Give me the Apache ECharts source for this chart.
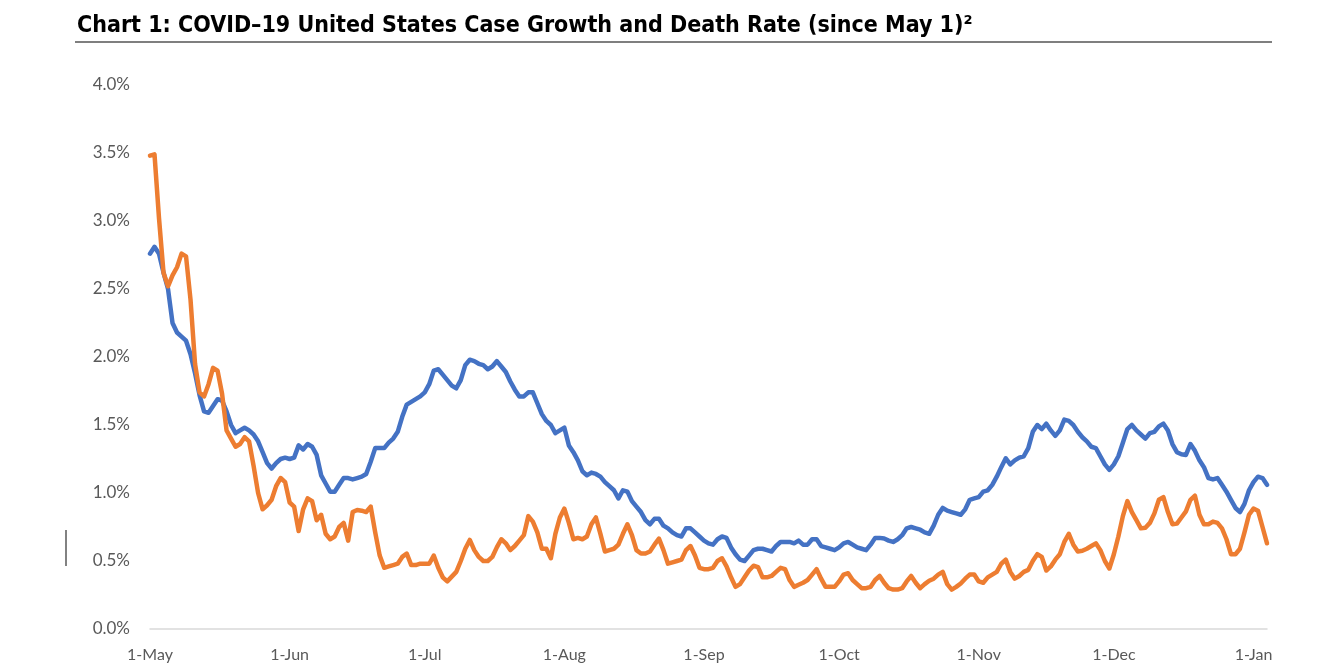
<!DOCTYPE html>
<html>
<head>
<meta charset="utf-8">
<script src="https://cdn.jsdelivr.net/npm/echarts@6/dist/echarts.min.js"></script>
<style>html,body{margin:0;padding:0;background:#fff;}#c{width:1342px;height:666px;}</style>
</head>
<body>
<div id="c"></div>
<script>
// Daily categories from 1 May through 4 Jan
const startDate = [2020, 4, 1]; // year, month (0-based), day
const dayCount = 249;
const monthNames = ['Jan','Feb','Mar','Apr','May','Jun','Jul','Aug','Sep','Oct','Nov','Dec'];
const yTicks = [0, 0.5, 1, 1.5, 2, 2.5, 3, 3.5, 4];

// Case growth (%), daily
const caseGrowth = [
2.76,2.81,2.76,2.62,2.50,2.25,2.18,2.15,2.12,2.02,
1.88,1.72,1.60,1.59,1.64,1.69,1.68,1.60,1.50,1.44,
1.46,1.48,1.46,1.43,1.38,1.30,1.22,1.18,1.22,1.25,
1.26,1.25,1.26,1.35,1.32,1.36,1.34,1.28,1.13,1.07,
1.01,1.01,1.06,1.11,1.11,1.10,1.11,1.12,1.14,1.23,
1.33,1.33,1.33,1.37,1.40,1.45,1.56,1.65,1.67,1.69,
1.71,1.74,1.80,1.90,1.91,1.87,1.83,1.79,1.77,1.83,
1.94,1.98,1.97,1.95,1.94,1.91,1.93,1.97,1.93,1.89,
1.82,1.76,1.71,1.71,1.74,1.74,1.66,1.58,1.53,1.50,
1.44,1.46,1.48,1.35,1.30,1.24,1.16,1.13,1.15,1.14,
1.12,1.08,1.05,1.02,0.96,1.02,1.01,0.94,0.90,0.86,
0.80,0.77,0.81,0.81,0.76,0.74,0.71,0.69,0.68,0.74,
0.74,0.71,0.68,0.65,0.63,0.62,0.66,0.68,0.67,0.60,
0.55,0.51,0.50,0.54,0.58,0.59,0.59,0.58,0.57,0.61,
0.64,0.64,0.64,0.63,0.65,0.62,0.62,0.66,0.66,0.61,
0.60,0.59,0.58,0.60,0.63,0.64,0.62,0.60,0.59,0.58,
0.62,0.67,0.67,0.665,0.65,0.64,0.66,0.69,0.74,0.75,
0.74,0.73,0.71,0.70,0.76,0.84,0.89,0.87,0.86,0.85,
0.84,0.88,0.95,0.96,0.97,1.01,1.02,1.06,1.12,1.19,
1.255,1.21,1.24,1.26,1.27,1.33,1.45,1.50,1.47,1.51,
1.46,1.42,1.46,1.54,1.53,1.50,1.45,1.41,1.38,1.34,
1.33,1.27,1.21,1.17,1.21,1.27,1.37,1.47,1.50,1.46,
1.43,1.40,1.44,1.45,1.49,1.51,1.46,1.36,1.30,1.285,
1.28,1.36,1.31,1.24,1.19,1.11,1.10,1.11,1.06,1.01,
0.95,0.89,0.86,0.92,1.02,1.08,1.12,1.11,1.06
];

// Death rate (%), daily
const deathRate = [
3.48,3.49,3.02,2.62,2.52,2.60,2.66,2.76,2.74,2.42,
1.95,1.74,1.71,1.80,1.92,1.90,1.73,1.46,1.40,1.34,
1.36,1.41,1.38,1.20,1.00,0.88,0.91,0.95,1.05,1.11,
1.08,0.93,0.90,0.72,0.88,0.96,0.94,0.80,0.84,0.70,
0.66,0.68,0.75,0.78,0.65,0.86,0.875,0.87,0.86,0.90,
0.71,0.54,0.45,0.46,0.47,0.48,0.53,0.555,0.47,0.47,
0.48,0.48,0.48,0.54,0.45,0.38,0.35,0.385,0.42,0.50,
0.59,0.655,0.58,0.53,0.50,0.50,0.53,0.60,0.66,0.63,
0.58,0.61,0.65,0.69,0.83,0.79,0.71,0.59,0.59,0.52,
0.70,0.82,0.885,0.78,0.66,0.67,0.66,0.68,0.77,0.82,
0.70,0.57,0.58,0.59,0.62,0.70,0.77,0.69,0.58,0.555,
0.555,0.57,0.62,0.665,0.58,0.48,0.49,0.50,0.51,0.58,
0.61,0.54,0.45,0.44,0.44,0.45,0.50,0.52,0.46,0.38,
0.31,0.33,0.38,0.43,0.465,0.455,0.38,0.38,0.39,0.42,
0.45,0.44,0.36,0.31,0.325,0.34,0.36,0.40,0.44,0.37,
0.31,0.31,0.31,0.35,0.40,0.41,0.36,0.33,0.30,0.30,
0.31,0.36,0.39,0.34,0.30,0.29,0.29,0.30,0.35,0.39,
0.34,0.30,0.33,0.355,0.37,0.40,0.42,0.33,0.29,0.31,
0.335,0.37,0.40,0.40,0.35,0.34,0.38,0.40,0.42,0.48,
0.51,0.42,0.37,0.39,0.42,0.435,0.50,0.55,0.53,0.43,
0.46,0.51,0.55,0.64,0.70,0.62,0.57,0.575,0.59,0.61,
0.63,0.58,0.50,0.445,0.55,0.68,0.83,0.94,0.86,0.80,
0.74,0.745,0.78,0.85,0.95,0.97,0.86,0.77,0.775,0.82,
0.865,0.95,0.98,0.84,0.77,0.77,0.79,0.78,0.74,0.66,
0.55,0.55,0.59,0.71,0.84,0.885,0.87,0.75,0.63
];

const categories = [];
for (let i = 0; i < dayCount; i++) {
  const d = new Date(startDate[0], startDate[1], startDate[2] + i);
  categories.push(d.getDate() + '-' + monthNames[d.getMonth()]);
}

const chart = echarts.init(document.getElementById('c'), null, {renderer: 'canvas'});
chart.setOption({
  animation: false,
  backgroundColor: '#ffffff',
  title: {
    text: 'Chart 1: COVID\u201319 United States Case Growth and Death Rate (since May 1)\u00b2',
    left: 72, top: 10,
    textStyle: {fontFamily: 'DejaVu Sans Condensed, DejaVu Sans', fontWeight: 'bold', fontSize: 23, color: '#000000'}
  },
  graphic: [
    {type: 'line', shape: {x1: 75, y1: 42, x2: 1272, y2: 42}, style: {stroke: '#7f7f7f', lineWidth: 2}},
    {type: 'line', shape: {x1: 66, y1: 530, x2: 66, y2: 566}, style: {stroke: '#595959', lineWidth: 1.5}}
  ],
  grid: {left: 150, right: 75, top: 85, bottom: 37, containLabel: false},
  xAxis: {
    type: 'category',
    data: categories,
    boundaryGap: false,
    axisLine: {lineStyle: {color: '#d9d9d9', width: 1.5}},
    axisTick: {show: false},
    splitLine: {show: false},
    axisLabel: {
      interval: function (index, value) { return value.indexOf('1-') === 0; },
      color: '#595959', fontFamily: 'Lato', fontSize: 16, margin: 18,
      hideOverlap: false
    }
  },
  yAxis: {
    type: 'value',
    min: yTicks[0], max: yTicks[yTicks.length - 1], interval: yTicks[1] - yTicks[0],
    axisLine: {show: false},
    axisTick: {show: false},
    splitLine: {show: false},
    axisLabel: {
      formatter: function (v) { return v.toFixed(1) + '%'; },
      color: '#595959', fontFamily: 'Lato', fontSize: 17, margin: 20
    }
  },
  series: [
    {name: 'Case Growth', type: 'line', data: caseGrowth, showSymbol: false, smooth: false,
     lineStyle: {color: '#4472c4', width: 4.5, join: 'round', cap: 'round'}, itemStyle: {color: '#4472c4'}},
    {name: 'Death Rate', type: 'line', data: deathRate, showSymbol: false, smooth: false,
     lineStyle: {color: '#ed7d31', width: 4.5, join: 'round', cap: 'round'}, itemStyle: {color: '#ed7d31'}}
  ]
});
</script>
</body>
</html>
